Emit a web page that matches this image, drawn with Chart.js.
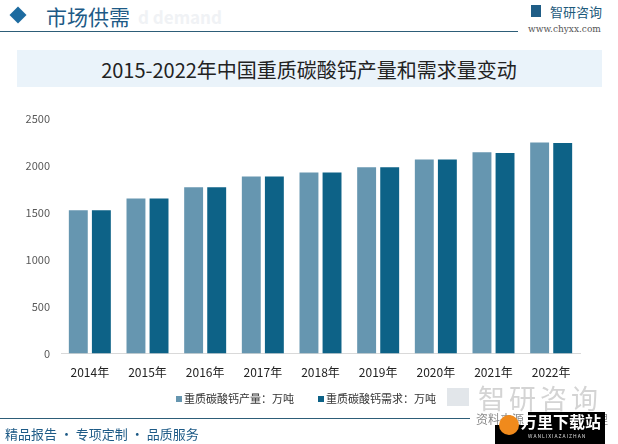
<!DOCTYPE html>
<html>
<head>
<meta charset="utf-8">
<script src="https://cdn.jsdelivr.net/npm/chart.js@4"></script>
<style>
  body { margin: 0; width: 618px; height: 444px; position: relative; overflow: hidden; background: #fff;
         font-family: "Noto Sans CJK SC", "Noto Sans", sans-serif; }
  .abs { position: absolute; }
  #diamond { left: 12px; top: 9px; width: 12px; height: 12px; background: #1d6ba0; transform: rotate(45deg); }
  #section { left: 46px; top: 1px; font-size: 21px; color: #1d5a86; }
  #ghost { left: 138px; top: 4px; font-size: 17px; color: #f0f2f5; font-weight: bold; }
  #topline { left: 0; top: 31px; width: 518px; height: 1px; background: #2d5d78; }
  #logoIcon { left: 531px; top: 5px; width: 10px; height: 12px; background: #1f5d86; }
  #logoText { left: 550px; top: 2px; font-size: 13px; color: #1d5a7c; }
  #url { left: 528px; top: 24px; font-size: 9px; color: #555; font-family: "DejaVu Serif", serif; }
  #banner { left: 17px; top: 50px; width: 585px; height: 37px; background: #eaf3fa; }
  #title { left: 0; top: 55px; width: 618px; text-align: center; font-size: 20px; color: #222; }
  #chartBox { left: 0; top: 100px; width: 618px; height: 302px; }
  #legend { left: 0; top: 390px; width: 618px; height: 16px; font-size: 11px; color: #333; }
  .item { position: absolute; top: 0; white-space: nowrap; }
  .sw { display: inline-block; width: 6px; height: 6px; margin-right: 2px; vertical-align: 1px; }
  #botline { left: 0; top: 418px; width: 470px; height: 1px; background: #2d5d78; }
  #slogan { left: 5px; top: 424px; font-size: 13px; color: #1d5a86; }
  #wmText { left: 478px; top: 378px; font-size: 27px; color: #d4d4d4; letter-spacing: 4px; }
  #wmIcon { left: 447px; top: 388px; width: 22px; height: 18px; background: #e2e6ea; }
  #source { left: 476px; top: 410px; font-size: 12px; color: #8a8a8a; }
  #dl1 { left: 528px; top: 412px; width: 77px; height: 14px; background: #000; }
  #dl2 { left: 495px; top: 425px; width: 110px; height: 19px; background: #000; }
  #dlCircle { left: 499px; top: 415px; width: 20px; height: 20px; border-radius: 50%; background: #f08a1c; }
  #dlText { left: 521px; top: 409px; font-size: 16px; color: #fff; font-weight: bold; }
  #dlSub { left: 528px; top: 432px; font-size: 5px; color: #ddd; letter-spacing: 1px; }
</style>
</head>
<body>
<div id="diamond" class="abs"></div>
<div id="section" class="abs">市场供需</div>
<div id="ghost" class="abs">d demand</div>
<div id="topline" class="abs"></div>
<div id="logoIcon" class="abs"></div>
<div id="logoText" class="abs">智研咨询</div>
<div id="url" class="abs">www.chyxx.com</div>
<div id="banner" class="abs"></div>
<div id="title" class="abs">2015-2022年中国重质碳酸钙产量和需求量变动</div>
<div id="chartBox" class="abs"><canvas id="chart" width="618" height="302"></canvas></div>
<div id="legend" class="abs"></div>
<div id="wmIcon" class="abs"></div>
<div id="wmText" class="abs">智研咨询</div>
<div id="source" class="abs">资料来源：智研咨询整理</div>
<div id="botline" class="abs"></div>
<div id="slogan" class="abs">精品报告 · 专项定制 · 品质服务</div>
<div id="dl1" class="abs"></div>
<div id="dl2" class="abs"></div>
<div id="dlCircle" class="abs"></div>
<div id="dlText" class="abs">万里下载站</div>
<div id="dlSub" class="abs">WANLIXIAZAIZHAN</div>

<script>
// data
const years = ['2014年', '2015年', '2016年', '2017年', '2018年', '2019年', '2020年', '2021年', '2022年'];
const production = [1528, 1652, 1773, 1887, 1929, 1986, 2068, 2146, 2250];
const demand = [1528, 1652, 1773, 1887, 1929, 1986, 2068, 2139, 2243];
const yTicks = [0, 500, 1000, 1500, 2000, 2500];
const seriesNames = ['重质碳酸钙产量：万吨', '重质碳酸钙需求：万吨'];
const seriesColors = ['#6696b0', '#0d6287'];

const cjk = '"Noto Sans CJK SC", "Noto Sans", sans-serif';

const chart = new Chart(document.getElementById('chart'), {
    type: 'bar',
    data: {
        labels: years,
        datasets: [production, demand].map((values, i) => ({
            label: seriesNames[i],
            data: values,
            backgroundColor: seriesColors[i],
            borderWidth: 0,
            categoryPercentage: 0.8,
            barPercentage: 0.82
        }))
    },
    options: {
        responsive: false,
        animation: false,
        events: [],
        layout: { padding: { left: 0, right: 38, top: 19, bottom: 10 } },
        plugins: {
            tooltip: { enabled: false },
            legend: { display: false }
        },
        scales: {
            x: {
                grid: { display: false, drawTicks: false },
                border: { display: true, color: '#d9d9d9' },
                ticks: { color: '#222', padding: 12, font: { family: cjk, size: 12 } }
            },
            y: {
                min: 0,
                max: 2500,
                afterFit: scale => { scale.width = 61; },
                afterBuildTicks: scale => { scale.ticks = yTicks.map(v => ({ value: v })); },
                grid: { display: false, drawTicks: false },
                border: { display: false },
                ticks: {
                    color: '#595959',
                    padding: 11,
                    font: { family: cjk, size: 11 },
                    callback: value => String(value)
                }
            }
        }
    }
});

// legend built from the chart's datasets
const legendX = [176, 318];
const legend = document.getElementById('legend');
chart.data.datasets.forEach((ds, i) => {
    const item = document.createElement('div');
    item.className = 'item';
    item.style.left = legendX[i] + 'px';
    item.innerHTML = '<span class="sw" style="background:' + ds.backgroundColor + '"></span>' + ds.label;
    legend.appendChild(item);
});
</script>
</body>
</html>
